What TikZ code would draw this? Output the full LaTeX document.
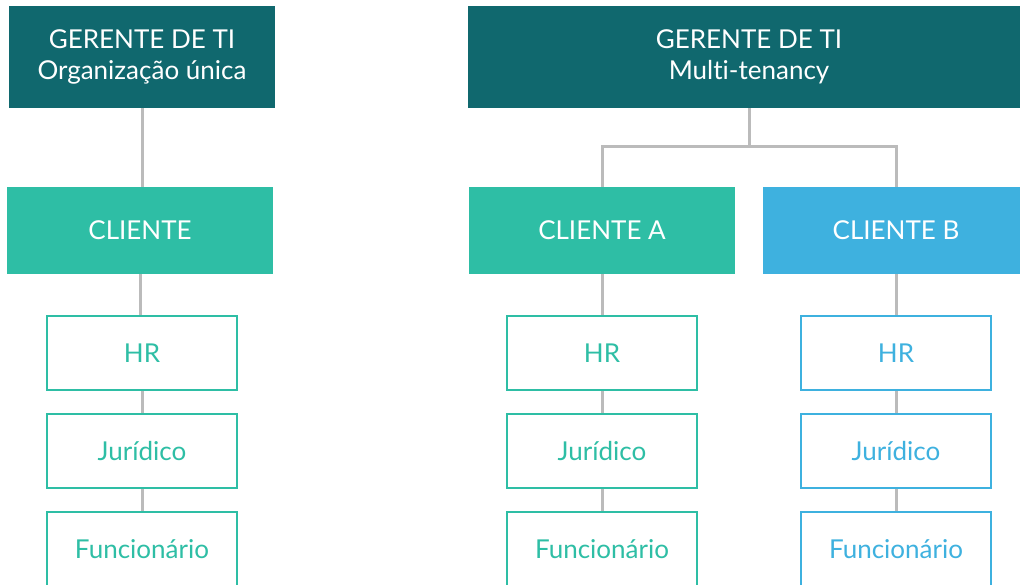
\documentclass[tikz,border=0pt]{standalone}
\usepackage{fontspec}
\setmainfont[Ligatures=NoCommon]{Lato}
\definecolor{gerente}{HTML}{10686E}
\definecolor{verde}{HTML}{2EBEA5}
\definecolor{azul}{HTML}{3EB1DF}
\definecolor{linha}{HTML}{BBBBBB}
\begin{document}
\begin{tikzpicture}[x=1pt,y=-1pt,
    every node/.style={font=\fontsize{26}{31}\selectfont,inner sep=0pt},
    gerentebox/.style={fill=gerente,text=white,minimum height=102pt,align=center},
    clientebox/.style={fill=#1,text=white,minimum width=266pt,minimum height=87pt},
    deptbox/.style={draw=#1,line width=2pt,fill=white,text=#1,minimum width=190pt,minimum height=74pt},
    link/.style={draw=linha,line width=3pt}]
    \clip (0,0) rectangle (1020,585);
    % organizacao unica
    \node[gerentebox,minimum width=266pt] (gerU) at (142,57) {GERENTE DE TI\\Organização única};
    \node[clientebox=verde] (cliU) at (140,230.5) {CLIENTE};
    \node[deptbox=verde] (hrU) at (142,353) {HR};
    \node[deptbox=verde] (jurU) at (142,451) {Jurídico};
    \node[deptbox=verde] (funU) at (142,549) {Funcionário};
    % multi-tenancy
    \node[gerentebox,minimum width=562pt] (gerM) at (749,57) {GERENTE DE TI\\Multi-tenancy};
    \node[clientebox=verde] (cliA) at (602,230.5) {CLIENTE A};
    \node[clientebox=azul] (cliB) at (896,230.5) {CLIENTE B};
    \node[deptbox=verde] (hrA) at (602,353) {HR};
    \node[deptbox=verde] (jurA) at (602,451) {Jurídico};
    \node[deptbox=verde] (funA) at (602,549) {Funcionário};
    \node[deptbox=azul] (hrB) at (896,353) {HR};
    \node[deptbox=azul] (jurB) at (896,451) {Jurídico};
    \node[deptbox=azul] (funB) at (896,549) {Funcionário};
    \coordinate (split) at (749,147);
    % ligacoes
    \draw[link] (gerU.south) -- (gerU.south |- cliU.north);
    \draw[link] (cliU.south) -- (cliU.south |- hrU.north);
    \draw[link] (gerM.south) -- (split);
    \draw[link] (cliA.north) -- (cliA.north |- split) -- (cliB.north |- split) -- (cliB.north);
    \foreach \c in {A,B} {
        \draw[link] (cli\c.south) -- (hr\c.north);
        \draw[link] (hr\c.south) -- (jur\c.north);
        \draw[link] (jur\c.south) -- (fun\c.north);
    }
    \draw[link] (hrU.south) -- (jurU.north);
    \draw[link] (jurU.south) -- (funU.north);
\end{tikzpicture}
\end{document}
